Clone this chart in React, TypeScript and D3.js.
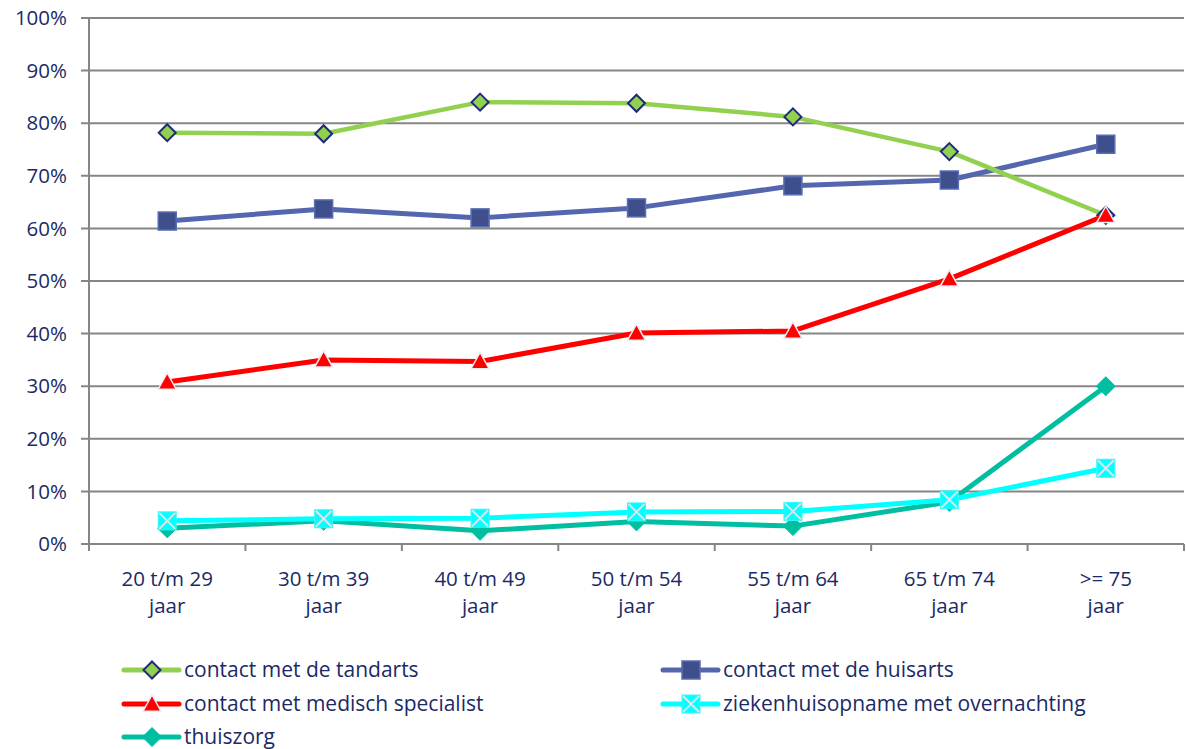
import React from "react";
import * as d3 from "d3";

const categories = [
  ["20 t/m 29", "jaar"],
  ["30 t/m 39", "jaar"],
  ["40 t/m 49", "jaar"],
  ["50 t/m 54", "jaar"],
  ["55 t/m 64", "jaar"],
  ["65 t/m 74", "jaar"],
  [">= 75", "jaar"],
];
const tandarts = [78.2, 78.0, 84.0, 83.8, 81.2, 74.6, 62.5];
const huisarts = [61.4, 63.7, 62.0, 63.9, 68.1, 69.2, 76.0];
const specialist = [30.8, 35.0, 34.7, 40.1, 40.5, 50.4, 62.5];
const ziekenhuis = [4.4, 4.8, 4.9, 6.1, 6.2, 8.4, 14.4];
const thuiszorg = [3.0, 4.4, 2.5, 4.3, 3.4, 8.0, 30.0];
const yTicks = [0, 10, 20, 30, 40, 50, 60, 70, 80, 90, 100];

type Marker = "diamondOpen" | "square" | "triangle" | "xsquare" | "diamond";
const series: { name: string; values: number[]; color: string; width: number; marker: Marker }[] = [
  { name: "contact met de tandarts", values: tandarts, color: "#92D050", width: 4.5, marker: "diamondOpen" },
  { name: "contact met de huisarts", values: huisarts, color: "#5466AE", width: 5, marker: "square" },
  { name: "contact met medisch specialist", values: specialist, color: "#FF0000", width: 5, marker: "triangle" },
  { name: "ziekenhuisopname met overnachting", values: ziekenhuis, color: "#00FFFF", width: 5, marker: "xsquare" },
  { name: "thuiszorg", values: thuiszorg, color: "#00BFA0", width: 5, marker: "diamond" },
];
const drawOrder = [4, 3, 1, 0, 2];

const W = 1186;
const H = 749;
const left = 89;
const right = 1184;
const top = 18;
const bottom = 544;
const textColor = "#1B2A66";
const font = "'Open Sans', 'Noto Sans', sans-serif";

const x = d3.scaleBand<number>().domain(d3.range(categories.length)).range([left, right]);
const y = d3.scaleLinear().domain([0, 100]).range([bottom, top]);
const cx = (i: number) => (x(i) as number) + x.bandwidth() / 2;

function MarkerShape({ type, px, py, color }: { type: Marker; px: number; py: number; color: string }) {
  if (type === "diamondOpen") {
    const s = 8.5;
    return (
      <path
        d={`M${px},${py - s}L${px + s},${py}L${px},${py + s}L${px - s},${py}Z`}
        fill={color}
        stroke="#1F2A7A"
        strokeWidth={2}
      />
    );
  }
  if (type === "diamond") {
    const s = 9.5;
    return <path d={`M${px},${py - s}L${px + s},${py}L${px},${py + s}L${px - s},${py}Z`} fill={color} stroke={color} strokeWidth={1} />;
  }
  if (type === "square") {
    const s = 9;
    return <rect x={px - s} y={py - s} width={2 * s} height={2 * s} fill="#3F4F8C" stroke="#5A6CB4" strokeWidth={1.5} />;
  }
  if (type === "triangle") {
    const s = 9;
    return (
      <path
        d={`M${px},${py - s}L${px + s},${py + s * 0.8}L${px - s},${py + s * 0.8}Z`}
        fill="#FF0000"
        stroke="#EDEAF5"
        strokeWidth={1.5}
      />
    );
  }
  const s = 9;
  return (
    <g>
      <rect x={px - s} y={py - s} width={2 * s} height={2 * s} fill={color} stroke="#3FF5F5" strokeWidth={1} />
      <path d={`M${px - s + 1},${py - s + 1}L${px + s - 1},${py + s - 1}M${px + s - 1},${py - s + 1}L${px - s + 1},${py + s - 1}`} stroke="#D8E8F0" strokeWidth={2} />
    </g>
  );
}

export default function App() {
  const line = d3
    .line<number>()
    .x((_, i) => cx(i))
    .y((d) => y(d));

  const legendItems = [
    { s: 0, lx: 124, ly: 670 },
    { s: 1, lx: 663, ly: 670 },
    { s: 2, lx: 124, ly: 704 },
    { s: 3, lx: 663, ly: 704 },
    { s: 4, lx: 124, ly: 737 },
  ];

  return (
    <svg width={W} height={H} style={{ position: "absolute", left: 0, top: 0, background: "#fff" }} fontFamily={font}>
      {yTicks.map((t) => (
        <line key={t} x1={left - 8} x2={right} y1={y(t)} y2={y(t)} stroke="#868686" strokeWidth={2} />
      ))}
      {yTicks.map((t) => (
        <text key={"l" + t} x={67} y={y(t)} dy="0.35em" textAnchor="end" fontSize={20.5} fill={textColor}>
          {t}%
        </text>
      ))}
      <line x1={left} x2={left} y1={top} y2={bottom + 7} stroke="#868686" strokeWidth={2} />
      {d3.range(categories.length + 1).map((i) => {
        const xx = i < categories.length ? (x(i) as number) : right;
        return <line key={"xt" + i} x1={xx} x2={xx} y1={bottom} y2={bottom + 7} stroke="#868686" strokeWidth={2} />;
      })}
      {categories.map((c, i) => (
        <text key={"c" + i} x={cx(i)} y={586} textAnchor="middle" fontSize={20.5} fill={textColor}>
          <tspan x={cx(i)} dy={0}>{c[0]}</tspan>
          <tspan x={cx(i)} dy={27}>{c[1]}</tspan>
        </text>
      ))}
      {drawOrder.map((si) => {
        const s = series[si];
        return (
          <g key={s.name}>
            <path d={line(s.values) || ""} fill="none" stroke={s.color} strokeWidth={s.width} strokeLinejoin="round" />
            {s.values.map((v, i) => (
              <MarkerShape key={i} type={s.marker} px={cx(i)} py={y(v)} color={s.color} />
            ))}
          </g>
        );
      })}
      {legendItems.map(({ s, lx, ly }) => {
        const se = series[s];
        return (
          <g key={"lg" + s}>
            <line x1={lx} x2={lx + 55} y1={ly} y2={ly} stroke={se.color} strokeWidth={5} strokeLinecap="round" />
            <MarkerShape type={se.marker} px={lx + 28} py={ly} color={se.color} />
            <text x={lx + 60} y={ly} dy="0.35em" fontSize={21} fill={textColor}>
              {se.name}
            </text>
          </g>
        );
      })}
    </svg>
  );
}
